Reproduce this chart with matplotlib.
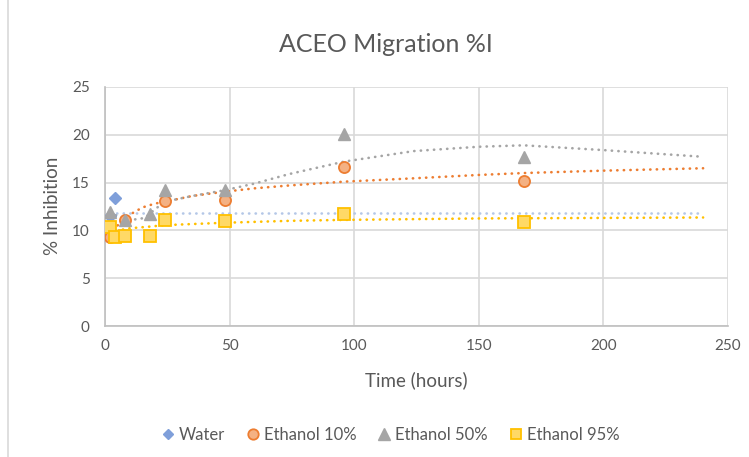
import matplotlib
matplotlib.use("Agg")
from matplotlib import pyplot as plt
from matplotlib.lines import Line2D

# Measured points (time in hours, % inhibition)
water_t = [2, 4]
water_y = [11.5, 13.4]
eth10_t = [2, 8, 24, 48, 96, 168]
eth10_y = [9.3, 11.1, 13.1, 13.2, 16.6, 15.2]
eth50_t = [2, 8, 18, 24, 48, 96, 168]
eth50_y = [11.9, 11.1, 11.7, 14.2, 14.2, 20.1, 17.7]
eth95_t = [2, 4, 8, 18, 24, 48, 96, 168]
eth95_y = [10.4, 9.3, 9.4, 9.4, 11.1, 11.0, 11.7, 10.9]

# Trendlines
water_trend_t = [2, 240]
water_trend_y = [11.8, 11.8]
eth10_trend_t = [2, 4, 7, 11, 15, 20, 24, 35, 48, 60, 74, 96, 124, 150, 168, 200, 240]
eth10_trend_y = [9.4, 10.2, 11.1, 11.8, 12.4, 12.8, 13.0, 13.6, 14.05, 14.4, 14.7, 15.1,
                 15.45, 15.8, 16.0, 16.25, 16.5]
eth50_trend_t = [2, 5, 8, 12, 16, 20, 24, 35, 48, 60, 74, 96, 124, 150, 168, 200, 240]
eth50_trend_y = [11.9, 11.5, 11.3, 11.15, 11.3, 12.2, 13.0, 13.6, 14.2, 14.9, 15.9, 17.2,
                 18.3, 18.75, 18.9, 18.4, 17.7]
eth95_trend_t = [2, 4, 9, 18, 24, 48, 74, 96, 150, 240]
eth95_trend_y = [9.8, 9.9, 10.2, 10.4, 10.55, 10.8, 11.0, 11.1, 11.25, 11.35]

xticks = [0, 50, 100, 150, 200, 250]
yticks = [0, 5, 10, 15, 20, 25]

font = "Lato"
txt = "#595959"
grid_c = "#D9D9D9"
W, H = 749, 457

fig = plt.figure(figsize=(7.49, 4.57), dpi=100)
ax = fig.add_axes([105 / W, 131 / H, 623 / W, 239 / H])

# chart area border on the left
fig.add_artist(Line2D([8 / W, 8 / W], [0, 1], color=grid_c, lw=1.2))

dot = dict(linestyle=(0, (0.1, 2.4)), lw=1.9, dash_capstyle="round")
ax.plot(water_trend_t, water_trend_y, color="#B4C7E7", zorder=2, **dot)
ax.plot(eth10_trend_t, eth10_trend_y, color="#ED7D31", zorder=2, **dot)
ax.plot(eth50_trend_t, eth50_trend_y, color="#A5A5A5", zorder=2, **dot)
ax.plot(eth95_trend_t, eth95_trend_y, color="#FFC000", zorder=2, **dot)

ax.plot(water_t, water_y, "D", ms=6.5, color="#7F9FDA", mec="#7F9FDA", zorder=3)
ax.plot(eth10_t, eth10_y, "o", ms=8, mfc="#F4B183", mec="#ED7D31", mew=1.3, zorder=4)
ax.plot(eth50_t, eth50_y, "^", ms=9, color="#A5A5A5", mec="#A5A5A5", zorder=5)
ax.plot(eth95_t, eth95_y, "s", ms=8.5, mfc="#FFD966", mec="#FFC000", mew=1.3, zorder=6)

ax.set_xlim(0, 250)
ax.set_ylim(0, 25)
ax.set_xticks(xticks)
ax.set_yticks(yticks)
ax.grid(True, color=grid_c, lw=1.2)
ax.set_axisbelow(True)
ax.tick_params(length=0, labelsize=11, labelcolor=txt)
ax.tick_params(axis="x", pad=9)
ax.tick_params(axis="y", pad=11)
for lab in ax.get_xticklabels() + ax.get_yticklabels():
    lab.set_family(font)
for side in ["top", "right"]:
    ax.spines[side].set_visible(False)
for side in ["left", "bottom"]:
    ax.spines[side].set_color("#BFBFBF")
    ax.spines[side].set_linewidth(1.2)

fig.text(416 / W, 1 - 380 / H, "Time (hours)", ha="center", va="center",
         fontsize=13.5, color=txt, family=font)
fig.text(52 / W, 1 - 206 / H, "% Inhibition", ha="center", va="center", rotation=90,
         fontsize=13.5, color=txt, family=font)
fig.text(386 / W, 1 - 44 / H, "ACEO Migration %I", ha="center", va="center",
         fontsize=18, color=txt, family=font)

handles = [
    Line2D([], [], ls="", marker="D", ms=5.5, color="#7F9FDA"),
    Line2D([], [], ls="", marker="o", ms=7.5, mfc="#F4B183", mec="#ED7D31", mew=1.3),
    Line2D([], [], ls="", marker="^", ms=8, color="#A5A5A5"),
    Line2D([], [], ls="", marker="s", ms=7.5, mfc="#FFD966", mec="#FFC000", mew=1.3),
]
labels = ["Water", "Ethanol 10%", "Ethanol 50%", "Ethanol 95%"]
fig.legend(handles, labels, loc="center", bbox_to_anchor=(390 / W, 22 / H), ncol=4,
           frameon=False, handletextpad=0.26, columnspacing=1.27, handlelength=0.8,
           prop={"family": font, "size": 12}, labelcolor=txt)

fig.savefig("out.png", dpi=100)
